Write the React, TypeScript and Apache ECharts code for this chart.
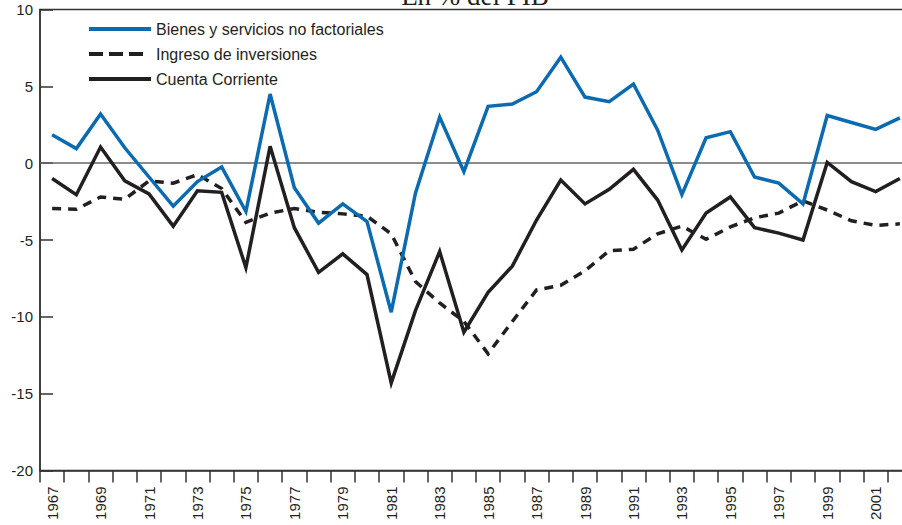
import React, { useEffect, useRef } from "react";
import * as echarts from "echarts";

const years = [
  "1967", "1968", "1969", "1970", "1971", "1972", "1973", "1974", "1975", "1976",
  "1977", "1978", "1979", "1980", "1981", "1982", "1983", "1984", "1985", "1986",
  "1987", "1988", "1989", "1990", "1991", "1992", "1993", "1994", "1995", "1996",
  "1997", "1998", "1999", "2000", "2001", "2002",
];

const bienes = [
  1.85, 0.95, 3.2, 1.0, -0.9, -2.8, -1.2, -0.25, -3.15, 4.5,
  -1.6, -3.9, -2.65, -3.8, -9.7, -1.95, 3.0, -0.55, 3.7, 3.85,
  4.65, 6.9, 4.3, 4.0, 5.15, 2.15, -2.05, 1.65, 2.05, -0.9,
  -1.3, -2.65, 3.1, 2.65, 2.2, 2.95,
];

const ingreso = [
  -2.95, -3.0, -2.2, -2.35, -1.15, -1.3, -0.75, -1.65, -3.85, -3.25,
  -2.95, -3.2, -3.3, -3.45, -4.6, -7.7, -9.1, -10.3, -12.4, -10.3,
  -8.25, -7.95, -7.0, -5.7, -5.6, -4.6, -4.1, -4.95, -4.15, -3.55,
  -3.25, -2.45, -3.05, -3.75, -4.05, -3.95,
];

const cuenta = [
  -1.0, -2.05, 1.05, -1.15, -2.0, -4.1, -1.8, -1.9, -6.8, 1.1,
  -4.2, -7.1, -5.9, -7.25, -14.3, -9.6, -5.75, -11.0, -8.4, -6.7,
  -3.7, -1.1, -2.65, -1.7, -0.4, -2.4, -5.65, -3.25, -2.2, -4.2,
  -4.55, -5.0, 0.05, -1.2, -1.85, -1.0,
];

const seriesNames = [
  "Bienes y servicios no factoriales",
  "Ingreso de inversiones",
  "Cuenta Corriente",
];

const titleText = "En % del PIB";

const BLUE = "#0a6bb3";
const DARK = "#231f20";
const SANS = "'Liberation Sans', Arial, sans-serif";

export default function App() {
  const ref = useRef<HTMLDivElement>(null);

  useEffect(() => {
    document.body.style.overflow = "hidden";
    const chart = echarts.init(ref.current!, null, { renderer: "svg" });
    chart.setOption({
      animation: false,
      backgroundColor: "#ffffff",
      grid: {
        left: 40,
        right: 0,
        top: 9.5,
        bottom: 54.5,
        show: true,
        borderColor: "#333",
        borderWidth: 1.5,
        backgroundColor: "transparent",
      },
      graphic: [
        {
          type: "text",
          x: 475,
          y: -4,
          style: {
            text: titleText,
            font: "27px 'Liberation Serif', 'Times New Roman', serif",
            fill: DARK,
            textAlign: "center",
            textVerticalAlign: "middle",
          },
        },
      ],
      legend: {
        orient: "vertical",
        left: 87,
        top: 21,
        padding: 0,
        itemWidth: 62,
        itemHeight: 14,
        itemGap: 9,
        itemStyle: { opacity: 0 },
        textStyle: {
          fontFamily: SANS,
          fontSize: 16,
          color: DARK,
        },
        data: [
          { name: seriesNames[0], lineStyle: { width: 4 } },
          { name: seriesNames[1], lineStyle: { type: [14, 6, 14, 6, 14, 30], width: 4 } },
          { name: seriesNames[2], lineStyle: { width: 4 } },
        ],
      },
      xAxis: {
        type: "category",
        data: years,
        boundaryGap: true,
        axisLine: { show: true, onZero: false, lineStyle: { color: "#333", width: 1.5 } },
        axisTick: {
          show: true,
          interval: 0,
          length: 12,
          inside: false,
          lineStyle: { color: "#333", width: 1.5 },
        },
        axisLabel: {
          interval: 1,
          rotate: 90,
          margin: 16,
          fontFamily: SANS,
          fontSize: 15,
          color: DARK,
        },
        splitLine: { show: false },
      },
      yAxis: {
        type: "value",
        min: -20,
        max: 10,
        interval: 5,
        axisLine: { show: true, lineStyle: { color: "#333", width: 1.5 } },
        axisTick: {
          show: true,
          inside: true,
          length: 13,
          lineStyle: { color: "#333", width: 1.5 },
        },
        axisLabel: {
          margin: 7,
          fontFamily: SANS,
          fontSize: 15,
          color: DARK,
        },
        splitLine: { show: false },
      },
      series: [
        {
          name: seriesNames[0],
          type: "line",
          data: bienes,
          symbol: "none",
          color: BLUE,
          lineStyle: { color: BLUE, width: 3.5, join: "miter", miterLimit: 10 },
          markLine: {
            silent: true,
            symbol: "none",
            label: { show: false },
            lineStyle: { color: "#666", type: "solid", width: 1.5 },
            data: [{ yAxis: 0 }],
            z: 1,
          },
          z: 3,
        },
        {
          name: seriesNames[1],
          type: "line",
          data: ingreso,
          symbol: "none",
          color: DARK,
          lineStyle: { color: DARK, width: 3.5, type: [9, 7], join: "miter", miterLimit: 10 },
          z: 2,
        },
        {
          name: seriesNames[2],
          type: "line",
          data: cuenta,
          symbol: "none",
          color: DARK,
          lineStyle: { color: DARK, width: 3.5, join: "miter", miterLimit: 10 },
          z: 2,
        },
      ],
    });
    return () => chart.dispose();
  }, []);

  return (
    <div
      ref={ref}
      style={{ position: "fixed", left: 0, top: 0, width: 912, height: 525 }}
    />
  );
}
